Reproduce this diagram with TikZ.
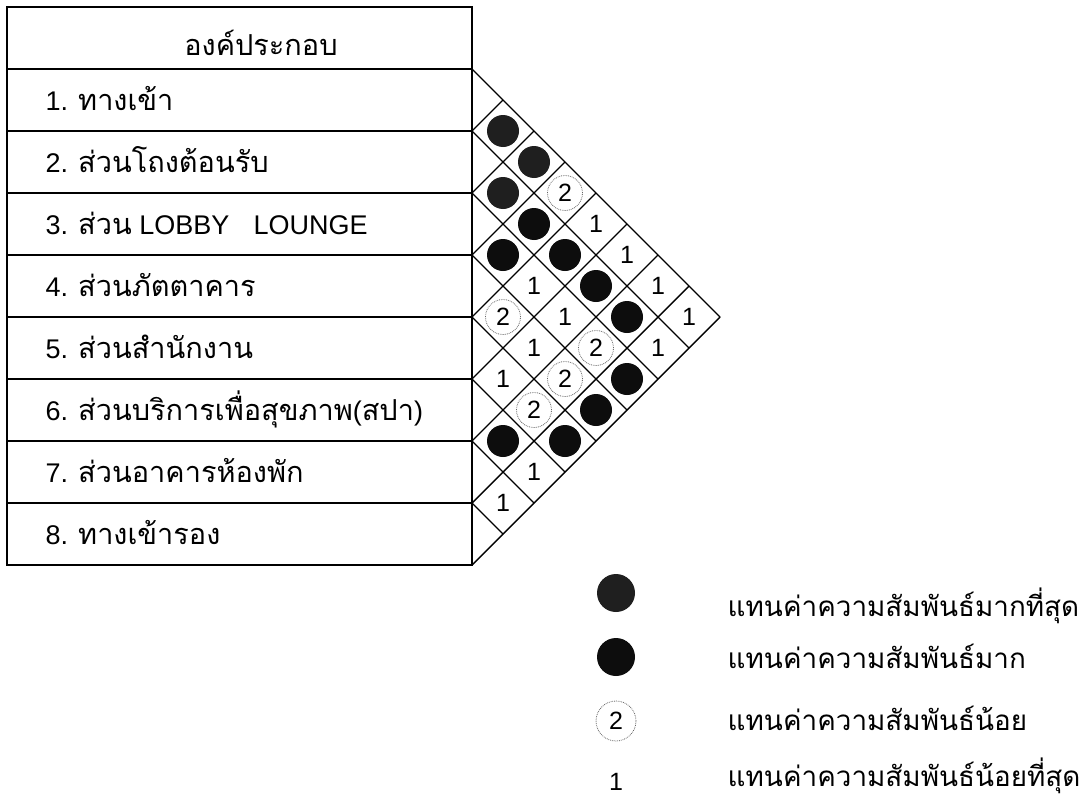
\documentclass[tikz,border=0pt]{standalone}
\usepackage{fontspec}
\setmainfont{Liberation Sans}
\newfontfamily\thaifont[Script=Thai,Scale=1.07]{Loma}
\usepackage{tikz}
\usetikzlibrary{positioning}
\newcommand{\thtxt}[1]{{\thaifont #1}}

\begin{document}
\begin{tikzpicture}[
    x=1pt, y=-1pt,
    line width=1.4pt,
    headtext/.style={anchor=base, inner sep=0pt, font=\fontsize{27}{32}\selectfont\thaifont},
    rowtext/.style={anchor=base west, inner sep=0pt, font=\fontsize{27}{32}\selectfont},
    legtext/.style={anchor=base west, inner sep=0pt, font=\fontsize{26}{31}\selectfont\thaifont},
    mostdot/.style={circle, fill=black!88, minimum size=32pt, inner sep=0pt},
    muchdot/.style={circle, fill=black!95, minimum size=32pt, inner sep=0pt},
    lowmark/.style={circle, draw=black!60, densely dotted, line width=0.8pt, minimum size=35pt, inner sep=0pt, font=\fontsize{25}{30}\selectfont},
    leastmark/.style={inner sep=0pt, font=\fontsize{25}{30}\selectfont}
]
\useasboundingbox (0,0) rectangle (1082,803);

% Table
\draw (7,7) rectangle (472,565);
\foreach \y in {69,131,...,503}
    \draw (7,\y) -- (472,\y);

% Matrix grid
\foreach \k in {0,...,7}
    \draw (472,{69+62*\k}) -- ({720-31*\k},{317+31*\k});
\foreach \k in {1,...,8}
    \draw (472,{69+62*\k}) -- ({472+31*\k},{69+31*\k});

% Header and rows
\node[headtext] (head) at (261,55) {องค์ประกอบ};
\node[rowtext] (row1) at (45,110) {1. \thtxt{ทางเข้า}};
\node[rowtext] (row2) at (45,172) {2. \thtxt{ส่วนโถงต้อนรับ}};
\node[rowtext] (row3) at (45,234) {3. \thtxt{ส่วน} LOBBY\hspace{0.9em}LOUNGE};
\node[rowtext] (row4) at (45,296) {4. \thtxt{ส่วนภัตตาคาร}};
\node[rowtext] (row5) at (45,358) {5. \thtxt{ส่วนสำนักงาน}};
\node[rowtext] (row6) at (45,420) {6. \thtxt{ส่วนบริการเพื่อสุขภาพ}(\thtxt{สปา})};
\node[rowtext] (row7) at (45,482) {7. \thtxt{ส่วนอาคารห้องพัก}};
\node[rowtext] (row8) at (45,544) {8. \thtxt{ทางเข้ารอง}};

% Relations, first diagonal
\node[mostdot] (c12) at (503,131) {};
\node[mostdot] (c23) at (503,193) {};
\node[muchdot] (c34) at (503,255) {};
\node[lowmark] (c45) at (503,317) {2};
\node[leastmark] (c56) at (503,379) {1};
\node[muchdot] (c67) at (503,441) {};
\node[leastmark] (c78) at (503,503) {1};

% Second diagonal
\node[mostdot] (c13) at (534,162) {};
\node[muchdot] (c24) at (534,224) {};
\node[leastmark] (c35) at (534,286) {1};
\node[leastmark] (c46) at (534,348) {1};
\node[lowmark] (c57) at (534,410) {2};
\node[leastmark] (c68) at (534,472) {1};

% Third diagonal
\node[lowmark] (c14) at (565,193) {2};
\node[muchdot] (c25) at (565,255) {};
\node[leastmark] (c36) at (565,317) {1};
\node[lowmark] (c47) at (565,379) {2};
\node[muchdot] (c58) at (565,441) {};

% Outer diagonals
\node[leastmark] (c15) at (596,224) {1};
\node[muchdot] (c26) at (596,286) {};
\node[lowmark] (c37) at (596,348) {2};
\node[muchdot] (c48) at (596,410) {};
\node[leastmark] (c16) at (627,255) {1};
\node[muchdot] (c27) at (627,317) {};
\node[muchdot] (c38) at (627,379) {};
\node[leastmark] (c17) at (658,286) {1};
\node[leastmark] (c28) at (658,348) {1};
\node[leastmark] (c18) at (689,317) {1};

% Legend
\node[mostdot, minimum size=38pt] (key1) at (616,593) {};
\node[muchdot, minimum size=38pt] (key2) at (616,657) {};
\node[lowmark, minimum size=40pt] (key3) at (616,721) {2};
\node[leastmark] (key4) at (616,782) {1};
\node[legtext] (txt1) at (727,616) {แทนค่าความสัมพันธ์มากที่สุด};
\node[legtext] (txt2) at (727,668) {แทนค่าความสัมพันธ์มาก};
\node[legtext] (txt3) at (727,730) {แทนค่าความสัมพันธ์น้อย};
\node[legtext] (txt4) at (727,786) {แทนค่าความสัมพันธ์น้อยที่สุด};

\end{tikzpicture}
\end{document}
